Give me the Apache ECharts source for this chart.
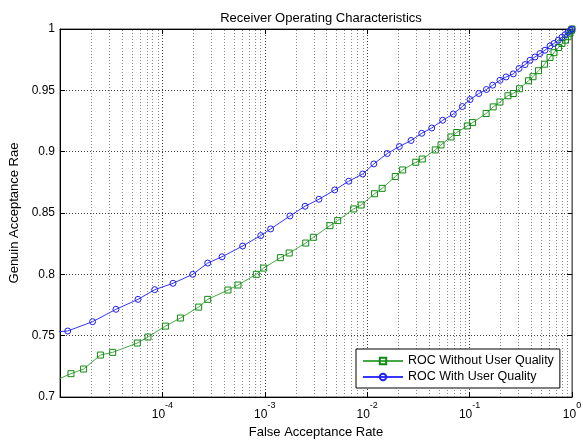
<!DOCTYPE html>
<html>
<head>
<meta charset="utf-8">
<script src="https://cdn.jsdelivr.net/npm/echarts@6/dist/echarts.min.js"></script>
<style>
html,body{margin:0;padding:0;background:#fff;}
#c{width:583px;height:440px;}
</style>
</head>
<body>
<div id="c"></div>
<script>
// ROC Without User Quality: [False Acceptance Rate, Genuine Acceptance Rate]
var farWithout = [9e-6, 1.28e-5, 1.70e-5, 2.48e-5, 3.27e-5, 5.69e-5, 7.23e-5, 1.07e-4, 1.50e-4, 2.26e-4, 2.77e-4,
  4.37e-4, 5.47e-4, 8.26e-4, 9.76e-4, 1.42e-3, 1.73e-3, 2.51e-3, 2.98e-3, 4.33e-3, 5.15e-3, 7.38e-3, 8.73e-3,
  1.18e-2, 1.40e-2, 1.88e-2, 2.22e-2, 2.98e-2, 3.45e-2, 4.62e-2, 5.26e-2, 6.58e-2, 7.48e-2, 9.50e-2, 0.107,
  0.145, 0.170, 0.198, 0.237, 0.267, 0.307, 0.376, 0.416, 0.471, 0.539, 0.610, 0.667, 0.738, 0.798, 0.864,
  0.914, 0.956, 0.989, 1.0];
var garWithout = [0.7135, 0.7190, 0.7228, 0.7342, 0.7364, 0.7440, 0.7489, 0.7578, 0.7644, 0.7733, 0.7796,
  0.7872, 0.7913, 0.8000, 0.8051, 0.8136, 0.8174, 0.8255, 0.8302, 0.8397, 0.8438, 0.8533, 0.8565,
  0.8657, 0.8701, 0.8797, 0.8851, 0.8914, 0.8940, 0.9014, 0.9055, 0.9120, 0.9156, 0.9210, 0.9237,
  0.9311, 0.9365, 0.9405, 0.9456, 0.9474, 0.9513, 0.9578, 0.9611, 0.9660, 0.9713, 0.9768, 0.9807, 0.9849, 0.9882, 0.9909,
  0.9937, 0.9966, 0.9990, 1.0];

// ROC With User Quality
var farWith = [9e-6, 1.19e-5, 2.08e-5, 3.52e-5, 5.78e-5, 8.41e-5, 1.27e-4, 1.98e-4, 2.77e-4, 3.82e-4, 6.08e-4,
  9.12e-4, 1.14e-3, 1.76e-3, 2.47e-3, 3.38e-3, 4.82e-3, 6.60e-3, 9.04e-3, 1.16e-2, 1.57e-2, 2.06e-2,
  2.68e-2, 3.41e-2, 4.27e-2, 5.46e-2, 6.93e-2, 8.49e-2, 0.101, 0.123, 0.146, 0.168, 0.198, 0.227, 0.267,
  0.304, 0.348, 0.389, 0.435, 0.487, 0.545, 0.610, 0.667, 0.735, 0.798, 0.854, 0.914, 0.967, 1.0];
var garWith = [0.7530, 0.7538, 0.7614, 0.7715, 0.7796, 0.7875, 0.7927, 0.8000, 0.8092, 0.8143, 0.8231,
  0.8316, 0.8370, 0.8476, 0.8555, 0.8612, 0.8688, 0.8759, 0.8818, 0.8900, 0.8985, 0.9042,
  0.9091, 0.9150, 0.9193, 0.9256, 0.9307, 0.9368, 0.9425, 0.9474, 0.9507, 0.9542, 0.9582, 0.9609, 0.9634,
  0.9678, 0.9710, 0.9745, 0.9772, 0.9800, 0.9827, 0.9862, 0.9882, 0.9909, 0.9933, 0.9953, 0.9974, 0.9990, 1.0];

// minor (2..9) log grid positions
var minorGrid = [2e-5,3e-5,4e-5,5e-5,6e-5,7e-5,8e-5,9e-5,
  2e-4,3e-4,4e-4,5e-4,6e-4,7e-4,8e-4,9e-4,
  2e-3,3e-3,4e-3,5e-3,6e-3,7e-3,8e-3,9e-3,
  2e-2,3e-2,4e-2,5e-2,6e-2,7e-2,8e-2,9e-2,
  0.2,0.3,0.4,0.5,0.6,0.7,0.8,0.9];

var yTicks = {min: 0.7, max: 1, interval: 0.05};
var xRange = {min: 1e-5, max: 1};

var FONT = '"Liberation Sans", Arial, Helvetica, sans-serif';

function zip(a, b) { var r = []; for (var i = 0; i < a.length; i++) r.push([a[i], b[i]]); return r; }

var chart = echarts.init(document.getElementById('c'), null, {renderer: 'canvas'});
var gridDot = {color: '#000', type: [1, 2], width: 1, opacity: 0.75};

chart.setOption({
  animation: false,
  backgroundColor: '#fff',
  textStyle: {fontFamily: FONT},
  title: {
    text: 'Receiver Operating Characteristics',
    left: 316, top: 7, textAlign: 'center',
    textStyle: {fontFamily: FONT, fontSize: 13, fontWeight: 'normal', color: '#000'}
  },
  grid: {left: 60, right: 11, top: 29, bottom: 43, containLabel: false, outerBoundsMode: 'none',
    show: true, borderColor: '#444', borderWidth: 1, backgroundColor: 'transparent'},
  legend: {
    orient: 'vertical', left: 356, top: 349,
    data: ['ROC Without User Quality', 'ROC With User Quality'],
    itemWidth: 40, itemHeight: 8, itemGap: 2,
    padding: [5, 6, 4, 6],
    backgroundColor: '#fff', borderColor: '#000', borderWidth: 1,
    textStyle: {fontFamily: FONT, fontSize: 12.5, color: '#000', lineHeight: 14}
  },
  xAxis: [{
    type: 'log', logBase: 10, min: xRange.min, max: xRange.max, splitNumber: 5,
    name: 'False Acceptance Rate', nameLocation: 'middle', nameGap: 28,
    nameTextStyle: {fontFamily: FONT, fontSize: 13, color: '#000'},
    axisLine: {lineStyle: {color: '#000'}},
    axisTick: {inside: true, length: 5, lineStyle: {color: '#000'}},
    axisLabel: {
      margin: 3, color: '#000', fontFamily: FONT,
      formatter: function (v) {
        var e = Math.round(Math.log(v) / Math.LN10);
        if (e === -5) return '';
        return '{b|10}{s|' + e + '}';
      },
      rich: {
        b: {fontSize: 12, fontFamily: FONT, color: '#000', padding: [9, 0, 0, 0], verticalAlign: 'middle'},
        s: {fontSize: 9, fontFamily: FONT, color: '#000', padding: [0, 0, 9, 0], verticalAlign: 'middle'}
      }
    },
    splitLine: {show: true, lineStyle: gridDot}
  }, {
    type: 'log', logBase: 10, min: xRange.min, max: xRange.max, splitNumber: 5, position: 'top',
    axisLine: {show: true, lineStyle: {color: '#000'}},
    axisTick: {inside: true, length: 5, lineStyle: {color: '#000'}},
    axisLabel: {show: false}, splitLine: {show: false}
  }],
  yAxis: [{
    type: 'value', min: yTicks.min, max: yTicks.max, interval: yTicks.interval,
    name: 'Genuin Acceptance Rae', nameLocation: 'middle', nameGap: 32,
    nameTextStyle: {fontFamily: FONT, fontSize: 13, color: '#000'},
    axisLine: {show: true, lineStyle: {color: '#000'}},
    axisTick: {show: true, inside: true, length: 5, lineStyle: {color: '#000'}},
    axisLabel: {margin: 5, color: '#000', fontFamily: FONT, fontSize: 12},
    splitLine: {show: true, lineStyle: gridDot}
  }, {
    type: 'value', min: yTicks.min, max: yTicks.max, interval: yTicks.interval, position: 'right',
    axisLine: {show: true, lineStyle: {color: '#666', width: 1}},
    axisTick: {show: true, inside: true, length: 5, lineStyle: {color: '#000'}},
    axisLabel: {show: false}, splitLine: {show: false}
  }],
  series: [{
    name: 'minor', type: 'custom', z: 1, silent: true,
    coordinateSystem: 'cartesian2d',
    data: minorGrid.map(function (v) { return [v, yTicks.min]; }),
    encode: {x: 0, y: 1},
    clip: true,
    renderItem: function (params, api) {
      var v = api.value(0);
      var p0 = api.coord([v, yTicks.min]);
      var p1 = api.coord([v, yTicks.max]);
      return {
        type: 'line',
        shape: {x1: Math.round(p0[0]) + 0.5, y1: p0[1], x2: Math.round(p1[0]) + 0.5, y2: p1[1]},
        style: {stroke: '#888', lineWidth: 1, lineDash: [1, 2], fill: null}
      };
    }
  }, {
    name: 'ROC Without User Quality', type: 'line', z: 3,
    data: zip(farWithout, garWithout),
    clip: true,
    symbol: 'rect', symbolSize: 6, showAllSymbol: true,
    lineStyle: {color: '#45a845', width: 1},
    itemStyle: {color: 'rgba(0,0,0,0)', borderColor: '#108a10', borderWidth: 1},
    color: '#108a10'
  }, {
    name: 'ROC With User Quality', type: 'line', z: 3,
    data: zip(farWith, garWith),
    clip: true,
    symbol: 'circle', symbolSize: 6, showAllSymbol: true,
    lineStyle: {color: '#3535ff', width: 1},
    itemStyle: {color: 'rgba(0,0,0,0)', borderColor: '#2020f0', borderWidth: 1},
    color: '#2020f0'
  }]
});
</script>
</body>
</html>
